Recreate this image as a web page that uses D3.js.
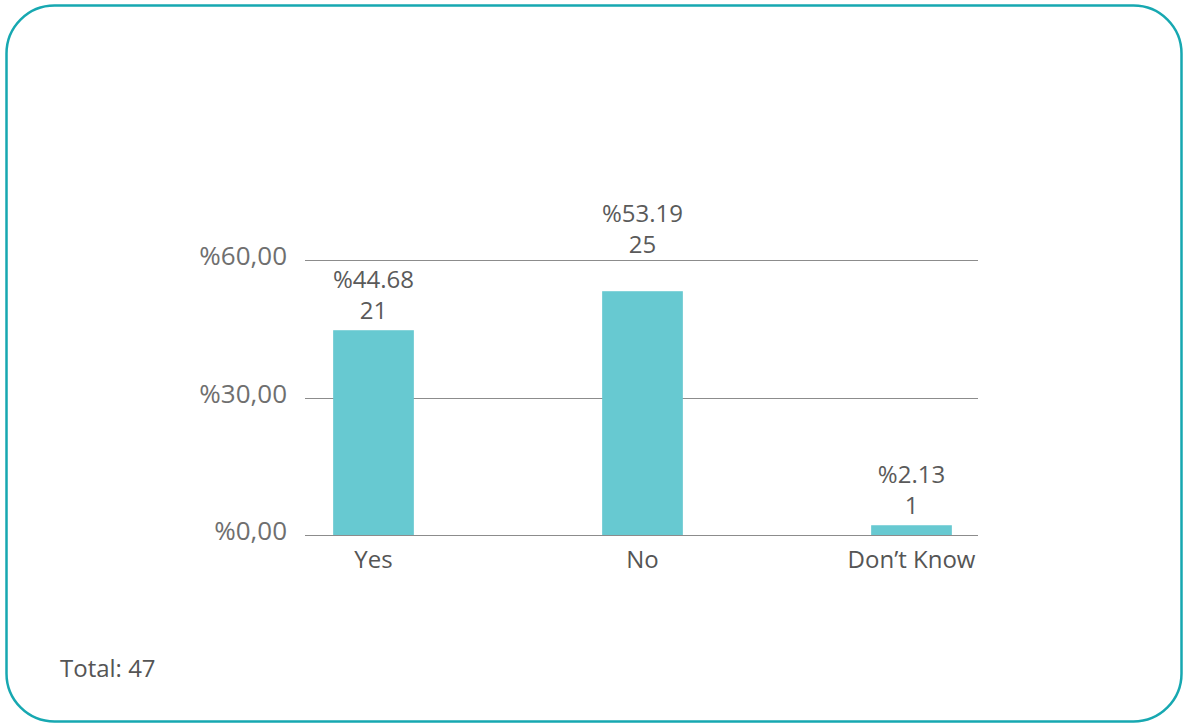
<!DOCTYPE html>
<html>
<head>
<meta charset="utf-8">
<script src="https://cdn.jsdelivr.net/npm/d3@7"></script>
<style>
  html, body { margin: 0; padding: 0; background: #fff; }
  svg { display: block; font-family: "Open Sans", sans-serif; }
</style>
</head>
<body>
<svg id="chart" width="1188" height="725"></svg>
<script>
// Survey answers
const categories = ["Yes", "No", "Don\u2019t Know"];
const percents = [44.68, 53.19, 2.13];
const counts = [21, 25, 1];
const yTicks = [0, 30, 60];
const yTickLabels = ["%0,00", "%30,00", "%60,00"];
const total = 47;

const svg = d3.select("#chart");

// Rounded frame
svg.append("rect")
  .attr("x", 6.5).attr("y", 5.5)
  .attr("width", 1175).attr("height", 716)
  .attr("rx", 48).attr("ry", 48)
  .attr("fill", "none")
  .attr("stroke", "#17a8b1")
  .attr("stroke-width", 2.5);

const x = d3.scaleBand()
  .domain(categories)
  .range([239, 1046])
  .paddingInner(0.7)
  .paddingOuter(0.35);

const y = d3.scaleLinear()
  .domain([0, 60])
  .range([535, 260]);

const gridX0 = 305, gridX1 = 978;

// Gridlines
svg.append("g").selectAll("line")
  .data(yTicks)
  .join("line")
  .attr("x1", gridX0).attr("x2", gridX1)
  .attr("y1", d => Math.round(y(d)) + 0.5)
  .attr("y2", d => Math.round(y(d)) + 0.5)
  .attr("stroke", "#8c8c8c")
  .attr("stroke-width", 1);

// Y tick labels
svg.append("g").selectAll("text")
  .data(yTicks)
  .join("text")
  .attr("x", 287)
  .attr("y", d => y(d) + 5)
  .attr("text-anchor", "end")
  .attr("font-size", 26)
  .attr("fill", "#6f6f6f")
  .text((d, i) => yTickLabels[i]);

// Bars
svg.append("g").selectAll("rect")
  .data(categories)
  .join("rect")
  .attr("x", d => x(d))
  .attr("width", x.bandwidth())
  .attr("y", (d, i) => y(percents[i]))
  .attr("height", (d, i) => y(0) - y(percents[i]))
  .attr("fill", "#67c9d1");

// Value labels: percent over count; lifted above a gridline they would cross
const lineGap = 31, capH = 19;
const labels = svg.append("g").selectAll("g")
  .data(categories)
  .join("g")
  .each(function(d, i) {
    let base2 = y(percents[i]) - 11;
    let top = base2 - lineGap - capH;
    yTicks.forEach(t => {
      const gy = y(t);
      if (gy > top && gy < base2 + 4) base2 = Math.min(base2, gy - 7);
    });
    const cx = x(d) + x.bandwidth() / 2;
    const g = d3.select(this);
    g.append("text")
      .attr("x", cx).attr("y", base2 - lineGap)
      .attr("text-anchor", "middle")
      .attr("font-size", 24)
      .attr("fill", "#5a5a5a")
      .text("%" + percents[i].toFixed(2));
    g.append("text")
      .attr("x", cx).attr("y", base2)
      .attr("text-anchor", "middle")
      .attr("font-size", 24)
      .attr("fill", "#5a5a5a")
      .text(counts[i]);
  });

// Category labels
svg.append("g").selectAll("text")
  .data(categories)
  .join("text")
  .attr("x", d => x(d) + x.bandwidth() / 2)
  .attr("y", 568)
  .attr("text-anchor", "middle")
  .attr("font-size", 24)
  .attr("fill", "#555")
  .text(d => d);

// Total
svg.append("text")
  .attr("x", 60).attr("y", 677)
  .attr("font-size", 24)
  .attr("fill", "#555")
  .text("Total: " + total);
</script>
</body>
</html>
